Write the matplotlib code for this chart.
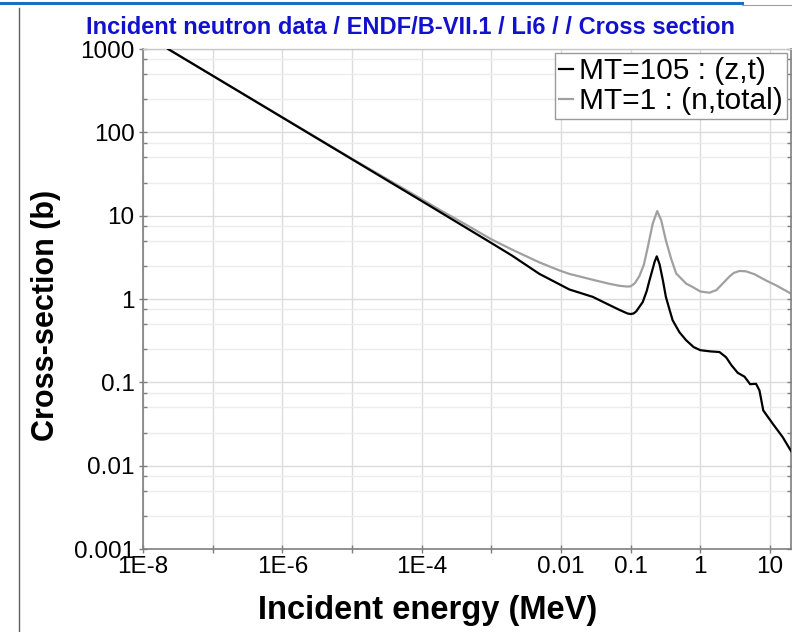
"""Li6 cross sections (ENDF/B-VII.1), JANIS-style log-log plot."""

import matplotlib
matplotlib.use("Agg")
import matplotlib.pyplot as plt
from matplotlib.lines import Line2D
from matplotlib.ticker import FixedLocator, NullFormatter

# MT=105 (z,t)
e_zt = [2.29e-8, 1e-5, 1e-4, 1e-3, 2e-3, 4.9e-3, 9.5e-3, 0.0132, 0.0286, 0.045,
        0.069, 0.09, 0.10, 0.11, 0.12, 0.149, 0.17, 0.186, 0.21, 0.22, 0.237,
        0.26, 0.29, 0.32, 0.36, 0.40, 0.50, 0.625, 0.80, 1.0, 1.4, 1.88, 2.34,
        2.8, 3.44, 4.3, 5.18, 6.3, 7.05, 8.0, 10.9, 15.2, 20.0]
xs_zt = [1000, 47.5, 15.0, 4.7, 3.3, 2.0, 1.5, 1.3, 1.06, 0.88,
         0.74, 0.67, 0.66, 0.67, 0.71, 0.92, 1.25, 1.67, 2.4, 2.78, 3.25,
         2.6, 1.67, 1.06, 0.75, 0.556, 0.40, 0.32, 0.265, 0.243, 0.235, 0.231, 0.20,
         0.16, 0.13, 0.117, 0.095, 0.096, 0.080, 0.046, 0.032, 0.022, 0.0150]

# MT=1 (n,total)
e_tot = [2.29e-8, 1e-5, 1e-4, 1.8e-4, 4e-4, 1e-3, 2e-3, 4.9e-3, 9.5e-3, 0.0132,
         0.0286, 0.05, 0.069, 0.09, 0.10, 0.115, 0.134, 0.155, 0.176, 0.207,
         0.24, 0.274, 0.32, 0.38, 0.45, 0.50, 0.625, 0.78, 1.0, 1.35, 1.7, 2.09,
         2.6, 3.0, 3.63, 4.5, 6.0, 7.05, 9.0, 12.2, 20.0]
xs_tot = [1001, 48.2, 15.8, 11.8, 8.1, 5.2, 3.9, 2.75, 2.2, 2.0,
          1.7, 1.52, 1.44, 1.41, 1.42, 1.55, 1.9, 2.6, 4.2, 8.0,
          11.35, 8.8, 5.06, 3.05, 2.02, 1.85, 1.53, 1.39, 1.23, 1.19, 1.28, 1.53,
          1.85, 2.05, 2.17, 2.15, 1.98, 1.84, 1.65, 1.46, 1.16]

x_major = [1e-8, 1e-7, 1e-6, 1e-5, 1e-4, 1e-3, 1e-2, 1e-1, 1, 10]
x_labels = ["1E-8", "", "1E-6", "", "1E-4", "", "0.01", "0.1", "1", "10"]
y_major = [1e-3, 1e-2, 1e-1, 1, 10, 100, 1000]
y_labels = ["0.001", "0.01", "0.1", "1", "10", "100", "1000"]

plt.rcParams["font.family"] = ["Liberation Sans", "DejaVu Sans"]

GRID = "#dcdcdc"
AXIS = "#7f7f7f"

fig = plt.figure(figsize=(7.92, 6.32), dpi=100)
ax = fig.add_axes([143 / 792, 1 - 549 / 632, 648 / 792, 500 / 632])

ax.plot(e_zt, xs_zt, color="black", lw=1.6, label="MT=105 : (z,t)", zorder=3)
ax.plot(e_tot, xs_tot, color="#a0a0a0", lw=1.6, label="MT=1 : (n,total)", zorder=2)

ax.set_xscale("log")
ax.set_yscale("log")
ax.set_xlim(1e-8, 20)
ax.set_ylim(1e-3, 1000)

ax.xaxis.set_major_locator(FixedLocator(x_major))
ax.set_xticklabels(x_labels)
ax.xaxis.set_minor_locator(FixedLocator([]))
ax.yaxis.set_major_locator(FixedLocator(y_major))
ax.set_yticklabels(y_labels)
y_minor = [m * 10.0 ** k for k in range(-3, 3) for m in (2.5, 5, 7.5)]
ax.yaxis.set_minor_locator(FixedLocator(y_minor))
ax.yaxis.set_minor_formatter(NullFormatter())

ax.grid(True, which="major", color=GRID, lw=1.0, zorder=0)
ax.grid(True, which="minor", axis="y", color="#ececec", lw=1.0, zorder=0)
ax.set_axisbelow(True)

ax.tick_params(which="major", direction="inout", length=6, width=1.0, color=AXIS,
               labelsize=17.5, pad=3, right=True)
ax.tick_params(which="minor", direction="in", length=3, width=1.0, color=AXIS, right=True)
ax.tick_params(axis="x", pad=2)

for side in ("left", "bottom", "right"):
    ax.spines[side].set_color(AXIS)
    ax.spines[side].set_linewidth(1.2)
ax.spines["top"].set_color("#c8c8c8")
ax.spines["top"].set_linewidth(1.0)

ax.set_xlabel("Incident energy (MeV)", fontsize=23.5, fontweight="bold")
ax.xaxis.set_label_coords((428 - 143) / 648, -0.092)
ax.set_ylabel("Cross-section (b)", fontsize=22, fontweight="bold")
ax.yaxis.set_label_coords(-0.126, (549 - 315) / 500)

fig.text(411 / 792, 1 - 27 / 632, "Incident neutron data / ENDF/B-VII.1 / Li6 / / Cross section",
         ha="center", va="center", fontsize=17, fontweight="bold", color="#1212cc")

leg = ax.legend(loc="upper right", bbox_to_anchor=(0.994, 0.992), fontsize=21.5,
                handlelength=0.45, handletextpad=0.2, labelspacing=0.05,
                borderpad=0.15, borderaxespad=0, fancybox=False, framealpha=1,
                edgecolor="#9a9a9a")
leg.get_frame().set_linewidth(1.0)

# screenshot frame lines
fig.add_artist(Line2D([0, 742 / 792], [1 - 3 / 632] * 2, color="#1a6fc0", lw=2.2))
fig.add_artist(Line2D([742 / 792, 1], [1 - 4.5 / 632] * 2, color="#a0a0a0", lw=0.8))
fig.add_artist(Line2D([19 / 792] * 2, [0, 1 - 8 / 632], color="#606060", lw=1.0))

fig.savefig("out.png", dpi=100)
